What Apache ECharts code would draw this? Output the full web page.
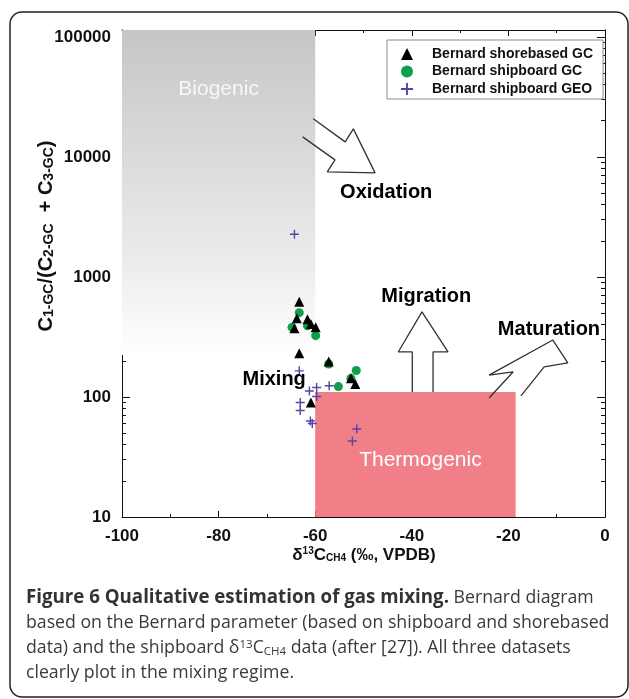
<!DOCTYPE html>
<html>
<head>
<meta charset="utf-8">
<script src="https://cdn.jsdelivr.net/npm/echarts@6/dist/echarts.min.js"></script>
<style>
  html, body { margin: 0; padding: 0; background: #fff; }
  #chart { width: 629px; height: 699px; }
</style>
</head>
<body>
<div id="chart"></div>
<script>
// Bernard diagram: δ13C of methane (‰ VPDB) against C1/(C2+C3)

// Shorebased GC measurements
const shorebasedD13C  = [-63.3, -63.8, -64.3, -61.6, -60.9, -59.9, -63.3, -57.2, -52.6, -51.7, -60.9];
const shorebasedRatio = [622, 453, 374, 444, 405, 380, 231, 197, 143, 128, 90];

// Shipboard GC measurements
const shipboardGcD13C  = [-63.3, -64.8, -61.6, -59.9, -57.2, -55.2, -51.5, -52.6];
const shipboardGcRatio = [504, 380, 391, 324, 188, 122, 166, 143];

// Shipboard GEO measurements
const shipboardGeoD13C  = [-64.3, -63.3, -61.2, -59.7, -59.7, -57.1, -63.1, -63.1, -61.0, -60.6, -51.4, -52.3];
const shipboardGeoRatio = [2270, 165, 112, 120, 101, 124, 90, 77, 63, 60, 54, 43];

const seriesNames = ['Bernard shorebased GC', 'Bernard shipboard GC', 'Bernard shipboard GEO'];

// Genetic fields (δ13C range, ratio range)
const biogenicField    = { d13C: [-100, -60], ratio: [224, 114000] };
const thermogenicField = { d13C: [-60, -18.5], ratio: [10, 110] };

// Process arrows, outlined in data units
const oxidationArrow  = [[-62.6, 14680], [-55.9, 9440], [-57.5, 7500], [-47.6, 7360], [-52.1, 17100], [-53.8, 13335], [-60.4, 20740]];
const migrationArrow  = [[-39.9, 110], [-39.9, 237], [-42.8, 237], [-37.9, 511], [-32.5, 237], [-35.6, 237], [-35.6, 110]];
const maturationArrow = [[-24.0, 98], [-19.0, 162], [-24.0, 152], [-10.8, 298], [-7.7, 192], [-12.6, 178], [-17.4, 102]];

// Process labels
const processLabels = [
  { name: 'Oxidation',  value: [-45.3, 5040] },
  { name: 'Migration',  value: [-37.0, 685] },
  { name: 'Maturation', value: [-11.6, 366] },
  { name: 'Mixing',     value: [-68.5, 140] }
];

// Axis ticks
const xTicks = { min: -100, max: 0, step: 20 };
const yMajorTicks = [10, 100, 1000, 10000, 100000];
const yMinorTicks = [];
for (let d = 10; d < 100000; d *= 10) {
  for (let k = 2; k <= 9; k++) yMinorTicks.push(k * d);
}

const FONT = 'Liberation Sans, Arial, Helvetica, sans-serif';
const CAPTION_FONT = 'Open Sans, Noto Sans, sans-serif';
const INK = '#111';
const CAPTION_INK = '#3a3a3a';
const CAPTION_SIZE = 17.7;
const CAPTION_BOLD_SIZE = 18.7;

function zip(xs, ys) { return xs.map((x, i) => [x, ys[i]]); }

const chart = echarts.init(document.getElementById('chart'), null, { renderer: 'canvas' });

const xBase = {
  type: 'value', min: xTicks.min, max: xTicks.max, interval: xTicks.step,
  splitLine: { show: false },
  axisLine: { onZero: false, lineStyle: { color: INK, width: 1 } },
  axisTick: { inside: true, length: 6, lineStyle: { color: INK } },
  minorTick: { show: true, splitNumber: 2, length: 3, lineStyle: { color: INK } },
  minorSplitLine: { show: false }
};

const yBase = {
  type: 'log', logBase: 10, min: 10, max: 114000,
  splitLine: { show: false },
  minorTick: { show: false },
  axisLine: { show: true, onZero: false, lineStyle: { color: INK, width: 1 } }
};

const majorTick = { inside: true, length: 8, customValues: yMajorTicks, lineStyle: { color: INK } };
const minorTick = { inside: true, length: 4, customValues: yMinorTicks, lineStyle: { color: INK } };

const crossSymbol = 'path://M4.2,0H5.8V4.2H10V5.8H5.8V10H4.2V5.8H0V4.2H4.2Z';

const option = {
  animation: false,
  backgroundColor: '#fff',
  grid: { left: 122, right: 24, top: 30, bottom: 182, containLabel: false },
  xAxis: [
    Object.assign({}, xBase, {
      position: 'bottom',
      axisLabel: { color: INK, fontFamily: FONT, fontWeight: 'bold', fontSize: 17, margin: 11 }
    }),
    Object.assign({}, xBase, { position: 'top', axisLabel: { show: false } })
  ],
  yAxis: [
    Object.assign({}, yBase, {
      position: 'left', axisTick: majorTick,
      axisLabel: {
        customValues: yMajorTicks, color: INK, fontFamily: FONT, fontWeight: 'bold', fontSize: 17, margin: 11,
        formatter: v => String(Math.round(v))
      }
    }),
    Object.assign({}, yBase, { position: 'left', axisTick: minorTick, axisLabel: { show: false } }),
    Object.assign({}, yBase, { position: 'right', axisTick: majorTick, axisLabel: { show: false } }),
    Object.assign({}, yBase, { position: 'right', axisTick: minorTick, axisLabel: { show: false } })
  ],
  legend: {
    data: seriesNames,
    orient: 'vertical',
    left: 387, top: 40,
    padding: [7, 10, 3, 14],
    itemWidth: 12, itemHeight: 12, itemGap: 3.5,
    backgroundColor: '#fff',
    borderColor: '#8a8a8a', borderWidth: 1,
    selectedMode: false,
    textStyle: { fontFamily: FONT, fontWeight: 'bold', fontSize: 14, color: INK, lineHeight: 12, padding: [0, 0, 0, 14] }
  },
  series: [
    {
      // genetic fields
      type: 'scatter', name: 'fields', data: [], silent: true, z: 1,
      markArea: {
        silent: true,
        data: [
          [
            {
              coord: [biogenicField.d13C[0], biogenicField.ratio[1]],
              name: 'Biogenic',
              itemStyle: {
                color: new echarts.graphic.LinearGradient(0, 0, 0, 1, [
                  { offset: 0, color: '#c6c6c6' },
                  { offset: 0.7, color: '#ebebeb' },
                  { offset: 1, color: '#ffffff' }
                ])
              },
              label: { position: 'insideTop', distance: 49, color: '#f7f7f7', fontFamily: FONT, fontSize: 21 }
            },
            { coord: [biogenicField.d13C[1], biogenicField.ratio[0]] }
          ],
          [
            {
              coord: [thermogenicField.d13C[0], thermogenicField.ratio[0]],
              name: 'Thermogenic',
              itemStyle: { color: '#f07f87', opacity: 1 },
              label: { position: 'inside', offset: [5, 6], color: '#fff', fontFamily: FONT, fontSize: 21 }
            },
            { coord: [thermogenicField.d13C[1], thermogenicField.ratio[1]] }
          ]
        ]
      }
    },
    {
      type: 'line', name: 'oxidation', data: oxidationArrow, symbol: 'none', silent: true, z: 3,
      lineStyle: { color: '#333', width: 1.3 }
    },
    {
      type: 'line', name: 'migration', data: migrationArrow, symbol: 'none', silent: true, z: 3,
      lineStyle: { color: '#333', width: 1.3 }
    },
    {
      type: 'line', name: 'maturation', data: maturationArrow, symbol: 'none', silent: true, z: 3,
      lineStyle: { color: '#333', width: 1.3 }
    },
    {
      type: 'scatter', name: seriesNames[2], data: zip(shipboardGeoD13C, shipboardGeoRatio), z: 4,
      symbol: crossSymbol, symbolSize: 9, itemStyle: { color: '#5a43a8', opacity: 1 }
    },
    {
      type: 'scatter', name: seriesNames[1], data: zip(shipboardGcD13C, shipboardGcRatio), z: 5,
      symbol: 'circle', symbolSize: 9, itemStyle: { color: '#0f9e4a', opacity: 1 }
    },
    {
      type: 'scatter', name: seriesNames[0], data: zip(shorebasedD13C, shorebasedRatio), z: 6,
      symbol: 'triangle', symbolSize: 10, itemStyle: { color: '#000', opacity: 1 }
    },
    {
      type: 'scatter', name: 'processes', data: processLabels, symbolSize: 0, silent: true, z: 7,
      itemStyle: { opacity: 1 },
      label: {
        show: true, position: 'inside', formatter: '{b}',
        color: '#000', fontFamily: FONT, fontWeight: 'bold', fontSize: 20
      }
    }
  ],
  graphic: [
    {
      type: 'rect', silent: true, z: 0,
      shape: { x: 10, y: 12, width: 618, height: 685, r: 12 },
      style: { fill: 'none', stroke: '#222', lineWidth: 1.5 }
    },
    {
      // y axis title
      type: 'text', x: 46, y: 236, rotation: Math.PI / 2, silent: true,
      style: {
        text: 'C{s|1-GC}/(C{s|2-GC}  + C{s|3-GC})',
        align: 'center', verticalAlign: 'middle',
        font: 'bold 20px ' + FONT, fill: INK,
        rich: { s: { font: 'bold 14px ' + FONT, fill: INK, verticalAlign: 'bottom', padding: [7, 0, 0, 0] } }
      }
    },
    {
      // x axis title
      type: 'text', x: 364, y: 555, silent: true,
      style: {
        text: 'δ{p|13}C{s|CH4} (‰, VPDB)',
        align: 'center', verticalAlign: 'middle',
        font: 'bold 17px ' + FONT, fill: INK,
        rich: {
          p: { font: 'bold 10px ' + FONT, fill: INK, verticalAlign: 'top', padding: [0, 0, 7, 0] },
          s: { font: 'bold 10px ' + FONT, fill: INK, verticalAlign: 'bottom', padding: [7, 0, 0, 0] }
        }
      }
    },
    {
      type: 'text', x: 26, y: 598, silent: true,
      style: {
        text: '{b|Figure 6 Qualitative estimation of gas mixing.} Bernard diagram',
        verticalAlign: 'middle', font: CAPTION_SIZE + 'px ' + CAPTION_FONT, fill: CAPTION_INK,
        rich: { b: { font: 'bold ' + CAPTION_BOLD_SIZE + 'px ' + CAPTION_FONT, fill: '#333' } }
      }
    },
    {
      type: 'text', x: 26, y: 623, silent: true,
      style: {
        text: 'based on the Bernard parameter (based on shipboard and shorebased',
        verticalAlign: 'middle', font: CAPTION_SIZE + 'px ' + CAPTION_FONT, fill: CAPTION_INK
      }
    },
    {
      type: 'text', x: 26, y: 648, silent: true,
      style: {
        text: 'data) and the shipboard δ{p|13}C{s|CH4} data (after [27]). All three datasets',
        verticalAlign: 'middle', font: CAPTION_SIZE + 'px ' + CAPTION_FONT, fill: CAPTION_INK,
        rich: {
          p: { font: '11.5px ' + CAPTION_FONT, fill: CAPTION_INK, verticalAlign: 'top', padding: [0, 0, 7, 0] },
          s: { font: '11.5px ' + CAPTION_FONT, fill: CAPTION_INK, verticalAlign: 'bottom', padding: [7, 0, 0, 0] }
        }
      }
    },
    {
      type: 'text', x: 26, y: 673, silent: true,
      style: {
        text: 'clearly plot in the mixing regime.',
        verticalAlign: 'middle', font: CAPTION_SIZE + 'px ' + CAPTION_FONT, fill: CAPTION_INK
      }
    }
  ]
};

chart.setOption(option);
</script>
</body>
</html>
